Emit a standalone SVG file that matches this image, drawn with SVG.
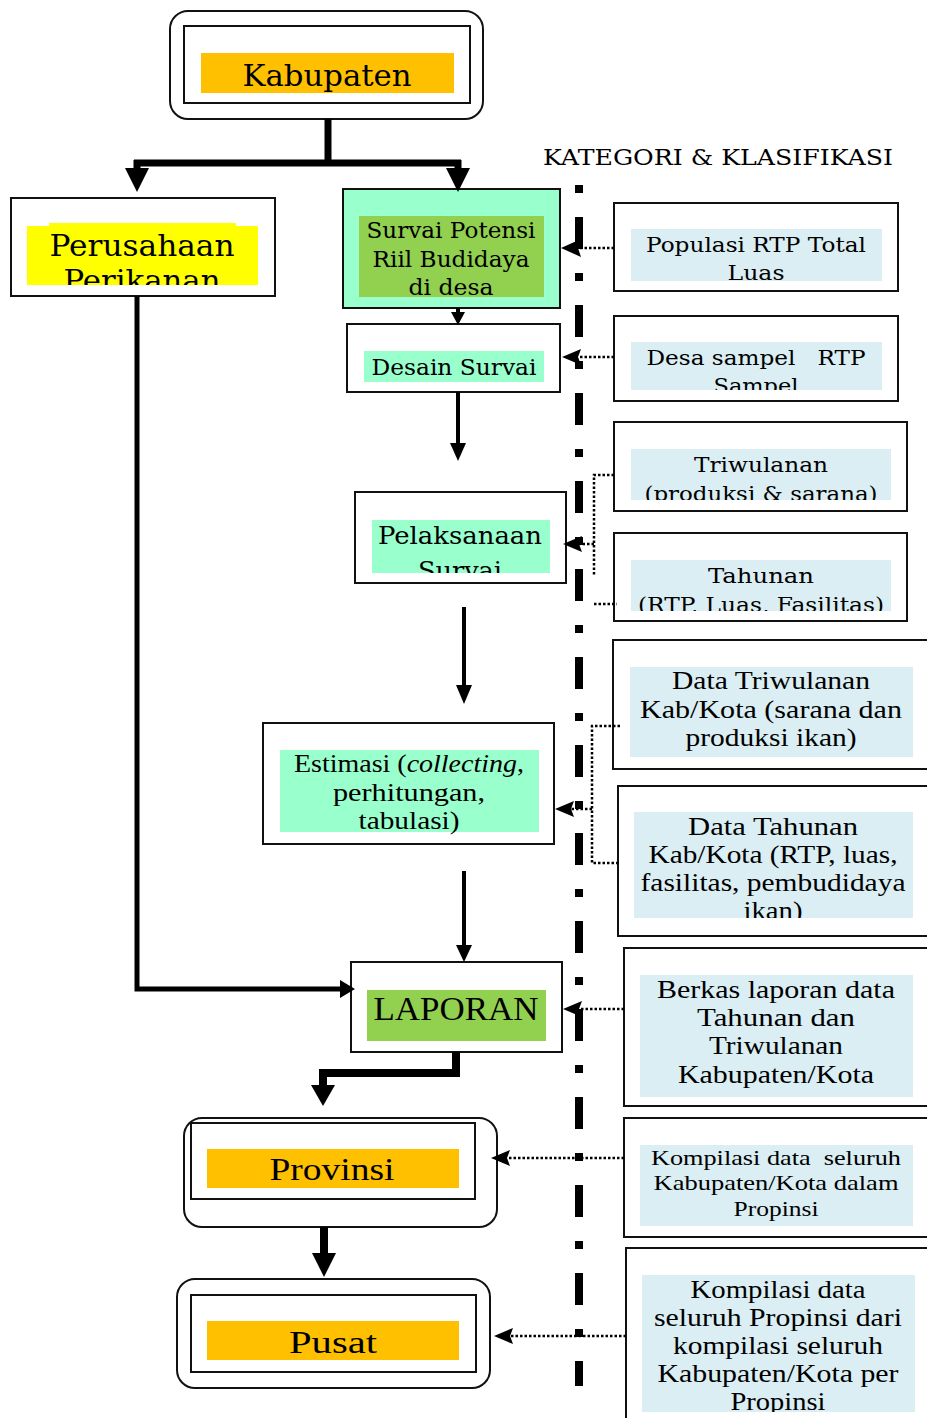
<svg xmlns="http://www.w3.org/2000/svg" width="927" height="1418" viewBox="0 0 927 1418">
<style>
.bx{fill:#fff;stroke:#111;stroke-width:2}
.rbx{fill:#fff;stroke:#111;stroke-width:2}
.t{font-family:"DejaVu Serif","Liberation Serif",serif;fill:#000;text-anchor:middle}
.c{font-family:"Liberation Serif","DejaVu Serif",serif;fill:#000;text-anchor:middle}
.thick{fill:none;stroke:#000;stroke-linejoin:miter}
.dot{fill:none;stroke:#000;stroke-width:2.5;stroke-dasharray:2.5 2}
.orange{fill:#FFC000}
.mint{fill:#99FFCC}
.green{fill:#92D050}
.blue{fill:#DAEEF3}
</style>
<defs>
<clipPath id="cPer"><rect x="27" y="223" width="231" height="62"/></clipPath>
<clipPath id="cPop"><rect x="631" y="229" width="251" height="52"/></clipPath>
<clipPath id="cDesa"><rect x="631" y="342" width="251" height="48"/></clipPath>
<clipPath id="cTri"><rect x="631" y="449" width="260" height="51"/></clipPath>
<clipPath id="cTah"><rect x="631" y="560" width="260" height="51"/></clipPath>
<clipPath id="cPel"><rect x="372" y="520" width="178" height="53"/></clipPath>
<clipPath id="cDT"><rect x="634" y="812" width="279" height="106"/></clipPath>
<clipPath id="cKP"><rect x="642" y="1275" width="273" height="137"/></clipPath>
</defs>
<rect width="927" height="1418" fill="#fff"/>

<!-- separator dash-dot line -->
<line x1="579" y1="185" x2="579" y2="1386" stroke="#000" stroke-width="8" stroke-dasharray="8 24 32 24"/>

<text class="t" x="543" y="165" font-size="23" style="text-anchor:start" textLength="350" lengthAdjust="spacingAndGlyphs">KATEGORI &amp; KLASIFIKASI</text>

<g id="kabupaten">
<rect class="rbx" x="170" y="11" width="313" height="108" rx="18"/>
<rect class="bx" x="184" y="26" width="286" height="77"/>
<rect class="orange" x="201" y="53" width="253" height="40"/>
<text class="t" x="327" y="86" font-size="30" textLength="169" lengthAdjust="spacingAndGlyphs">Kabupaten</text>
</g>

<g id="perusahaan">
<rect class="bx" x="11" y="198" width="264" height="98"/>
<rect x="27" y="226" width="231" height="59" fill="#FFFF00"/>
<rect x="49" y="223" width="187" height="4" fill="#FFFF00"/>
<g clip-path="url(#cPer)">
<text class="t" x="142" y="256" font-size="30" textLength="185" lengthAdjust="spacingAndGlyphs">Perusahaan</text>
<text class="t" x="142" y="291" font-size="30" textLength="157" lengthAdjust="spacingAndGlyphs">Perikanan</text>
</g>
</g>

<g id="survai-potensi">
<rect x="343" y="189" width="217" height="119" fill="#99FFCC" stroke="#111" stroke-width="2"/>
<rect class="green" x="359" y="216" width="185" height="81"/>
<text class="t" x="451" y="238" font-size="22" textLength="169" lengthAdjust="spacingAndGlyphs">Survai Potensi</text>
<text class="t" x="451" y="267" font-size="22" textLength="157" lengthAdjust="spacingAndGlyphs">Riil Budidaya</text>
<text class="t" x="451" y="295" font-size="22" textLength="85" lengthAdjust="spacingAndGlyphs">di desa</text>
</g>

<g id="desain-survai">
<rect class="bx" x="347" y="324" width="213" height="68"/>
<rect class="mint" x="364" y="351" width="180" height="31"/>
<text class="t" x="454" y="375" font-size="22" textLength="165" lengthAdjust="spacingAndGlyphs">Desain Survai</text>
</g>

<g id="pelaksanaan-survai">
<rect class="bx" x="355" y="492" width="211" height="91"/>
<rect class="mint" x="372" y="520" width="178" height="53"/>
<g clip-path="url(#cPel)">
<text class="t" x="460" y="544" font-size="24" textLength="164" lengthAdjust="spacingAndGlyphs">Pelaksanaan</text>
<text class="t" x="460" y="579" font-size="24" textLength="84" lengthAdjust="spacingAndGlyphs">Survai</text>
</g>
</g>

<g id="estimasi">
<rect class="bx" x="263" y="723" width="291" height="121"/>
<rect class="mint" x="280" y="750" width="259" height="82"/>
<text class="c" x="409" y="772" font-size="25" textLength="230" lengthAdjust="spacingAndGlyphs">Estimasi (<tspan font-style="italic">collecting</tspan>,</text>
<text class="c" x="409" y="801" font-size="25" textLength="152" lengthAdjust="spacingAndGlyphs">perhitungan,</text>
<text class="c" x="409" y="829" font-size="25" textLength="101" lengthAdjust="spacingAndGlyphs">tabulasi)</text>
</g>

<g id="laporan">
<rect class="bx" x="351" y="962" width="211" height="90"/>
<rect class="green" x="367" y="990" width="179" height="51"/>
<text class="c" x="456" y="1020" font-size="34" textLength="165" lengthAdjust="spacingAndGlyphs">LAPORAN</text>
</g>

<g id="provinsi">
<rect class="rbx" x="184" y="1118" width="313" height="109" rx="18"/>
<rect class="bx" x="191" y="1123" width="284" height="76"/>
<rect class="orange" x="207" y="1149" width="252" height="39"/>
<text class="c" x="332" y="1180" font-size="31" textLength="125" lengthAdjust="spacingAndGlyphs">Provinsi</text>
</g>

<g id="pusat">
<rect class="rbx" x="177" y="1279" width="313" height="109" rx="18"/>
<rect class="bx" x="191" y="1295" width="285" height="77"/>
<rect class="orange" x="207" y="1321" width="252" height="39"/>
<text class="c" x="333" y="1353" font-size="31" textLength="88" lengthAdjust="spacingAndGlyphs">Pusat</text>
</g>

<g id="populasi">
<rect class="bx" x="614" y="203" width="284" height="88"/>
<rect class="blue" x="631" y="229" width="251" height="52"/>
<g clip-path="url(#cPop)">
<text class="t" x="756" y="252" font-size="21" textLength="220" lengthAdjust="spacingAndGlyphs">Populasi RTP Total</text>
<text class="t" x="756" y="280" font-size="21" textLength="57" lengthAdjust="spacingAndGlyphs">Luas</text>
</g>
</g>

<g id="desa-sampel">
<rect class="bx" x="614" y="316" width="284" height="85"/>
<rect class="blue" x="631" y="342" width="251" height="48"/>
<g clip-path="url(#cDesa)">
<text class="t" x="756" y="365" font-size="21" xml:space="preserve" textLength="219" lengthAdjust="spacingAndGlyphs">Desa sampel   RTP</text>
<text class="t" x="756" y="393" font-size="21" textLength="85" lengthAdjust="spacingAndGlyphs">Sampel</text>
</g>
</g>

<g id="triwulanan">
<rect class="bx" x="614" y="422" width="293" height="89"/>
<rect class="blue" x="631" y="449" width="260" height="51"/>
<g clip-path="url(#cTri)">
<text class="t" x="761" y="472" font-size="21" textLength="134" lengthAdjust="spacingAndGlyphs">Triwulanan</text>
<text class="t" x="761" y="501" font-size="21" textLength="233" lengthAdjust="spacingAndGlyphs">(produksi &amp; sarana)</text>
</g>
</g>

<g id="tahunan">
<rect class="bx" x="614" y="533" width="293" height="88"/>
<rect class="blue" x="631" y="560" width="260" height="51"/>
<g clip-path="url(#cTah)">
<text class="t" x="761" y="583" font-size="21" textLength="106" lengthAdjust="spacingAndGlyphs">Tahunan</text>
<text class="t" x="761" y="612" font-size="21" textLength="246" lengthAdjust="spacingAndGlyphs">(RTP, Luas, Fasilitas)</text>
</g>
</g>

<g id="data-triwulanan">
<rect class="bx" x="613" y="640" width="320" height="129"/>
<rect class="blue" x="630" y="667" width="283" height="90"/>
<text class="c" x="771" y="689" font-size="25" textLength="198" lengthAdjust="spacingAndGlyphs">Data Triwulanan</text>
<text class="c" x="771" y="718" font-size="25" textLength="262" lengthAdjust="spacingAndGlyphs">Kab/Kota (sarana dan</text>
<text class="c" x="771" y="746" font-size="25" textLength="171" lengthAdjust="spacingAndGlyphs">produksi ikan)</text>
</g>

<g id="data-tahunan">
<rect class="bx" x="618" y="786" width="315" height="150"/>
<rect class="blue" x="634" y="812" width="279" height="106"/>
<g clip-path="url(#cDT)">
<text class="c" x="773" y="835" font-size="25" textLength="170" lengthAdjust="spacingAndGlyphs">Data Tahunan</text>
<text class="c" x="773" y="863" font-size="25" textLength="249" lengthAdjust="spacingAndGlyphs">Kab/Kota (RTP, luas,</text>
<text class="c" x="773" y="891" font-size="25" textLength="265" lengthAdjust="spacingAndGlyphs">fasilitas, pembudidaya</text>
<text class="c" x="773" y="919" font-size="25" textLength="59" lengthAdjust="spacingAndGlyphs">ikan)</text>
</g>
</g>

<g id="berkas-laporan">
<rect class="bx" x="624" y="948" width="309" height="158"/>
<rect class="blue" x="640" y="975" width="273" height="122"/>
<text class="c" x="776" y="998" font-size="25" textLength="238" lengthAdjust="spacingAndGlyphs">Berkas laporan data</text>
<text class="c" x="776" y="1026" font-size="25" textLength="158" lengthAdjust="spacingAndGlyphs">Tahunan dan</text>
<text class="c" x="776" y="1054" font-size="25" textLength="134" lengthAdjust="spacingAndGlyphs">Triwulanan</text>
<text class="c" x="776" y="1083" font-size="25" textLength="196" lengthAdjust="spacingAndGlyphs">Kabupaten/Kota</text>
</g>

<g id="kompilasi-kab">
<rect class="bx" x="624" y="1118" width="309" height="119"/>
<rect class="blue" x="640" y="1145" width="273" height="81"/>
<text class="c" x="776" y="1165" font-size="22" xml:space="preserve" textLength="250" lengthAdjust="spacingAndGlyphs">Kompilasi data  seluruh</text>
<text class="c" x="776" y="1190" font-size="22" textLength="245" lengthAdjust="spacingAndGlyphs">Kabupaten/Kota dalam</text>
<text class="c" x="776" y="1216" font-size="22" textLength="85" lengthAdjust="spacingAndGlyphs">Propinsi</text>
</g>

<g id="kompilasi-prop">
<rect class="bx" x="626" y="1248" width="307" height="180"/>
<rect class="blue" x="642" y="1275" width="273" height="137"/>
<g clip-path="url(#cKP)">
<text class="c" x="778" y="1298" font-size="25" textLength="175" lengthAdjust="spacingAndGlyphs">Kompilasi data</text>
<text class="c" x="778" y="1326" font-size="25" textLength="248" lengthAdjust="spacingAndGlyphs">seluruh Propinsi dari</text>
<text class="c" x="778" y="1354" font-size="25" textLength="210" lengthAdjust="spacingAndGlyphs">kompilasi seluruh</text>
<text class="c" x="778" y="1382" font-size="25" textLength="241" lengthAdjust="spacingAndGlyphs">Kabupaten/Kota per</text>
<text class="c" x="778" y="1410" font-size="25" textLength="95" lengthAdjust="spacingAndGlyphs">Propinsi</text>
</g>
</g>

<g id="connectors">
<!-- Kabupaten split -->
<path class="thick" stroke-width="7" d="M328,119 V163 M134,163 H461 M137,160 V172 M458,160 V172"/>
<polygon points="125,168 149,168 137,192"/>
<polygon points="446,168 470,168 458,192"/>
<!-- Perusahaan to LAPORAN -->
<path class="thick" stroke-width="5" d="M137,296 V989 H345"/>
<polygon points="340,980 340,998 355,989"/>
<!-- Survai to Desain -->
<path class="thick" stroke-width="4" d="M458,308 V316"/>
<polygon points="451,312 465,312 458,325"/>
<!-- Desain to Pelaksanaan -->
<path class="thick" stroke-width="4" d="M458,392 V446"/>
<polygon points="450,443 466,443 458,461"/>
<!-- Pelaksanaan to Estimasi -->
<path class="thick" stroke-width="4" d="M464,607 V688"/>
<polygon points="456,685 472,685 464,704"/>
<!-- Estimasi to LAPORAN -->
<path class="thick" stroke-width="4" d="M464,871 V947"/>
<polygon points="456,945 472,945 464,962"/>
<!-- LAPORAN to Provinsi -->
<path class="thick" stroke-width="8" d="M456,1052 V1073 H323 V1088"/>
<polygon points="311,1085 335,1085 323,1106"/>
<!-- Provinsi to Pusat -->
<path class="thick" stroke-width="8" d="M324,1227 V1256"/>
<polygon points="312,1253 336,1253 324,1277"/>

<!-- dotted feeds -->
<path class="dot" d="M614,248 H578"/>
<polygon points="561,248 581,239 578,248 581,257"/>
<path class="dot" d="M614,357 H578"/>
<polygon points="562,357 581,349 578,357 581,365"/>
<path class="dot" d="M614,475 H594 V575"/>
<path class="dot" d="M594,604 H617"/>
<path class="dot" d="M594,544 H578"/>
<polygon points="563,544 582,536 579,544 582,552"/>
<path class="dot" d="M620,726 H592 V863 H620"/>
<path class="dot" d="M592,809 H570"/>
<polygon points="555,809 574,801 571,809 574,817"/>
<path class="dot" d="M624,1009 H578"/>
<polygon points="563,1009 582,1001 579,1009 582,1017"/>
<path class="dot" d="M624,1158 H506"/>
<polygon points="491,1158 510,1150 507,1158 510,1166"/>
<path class="dot" d="M626,1336 H509"/>
<polygon points="494,1336 513,1328 510,1336 513,1344"/>
</g>
</svg>
